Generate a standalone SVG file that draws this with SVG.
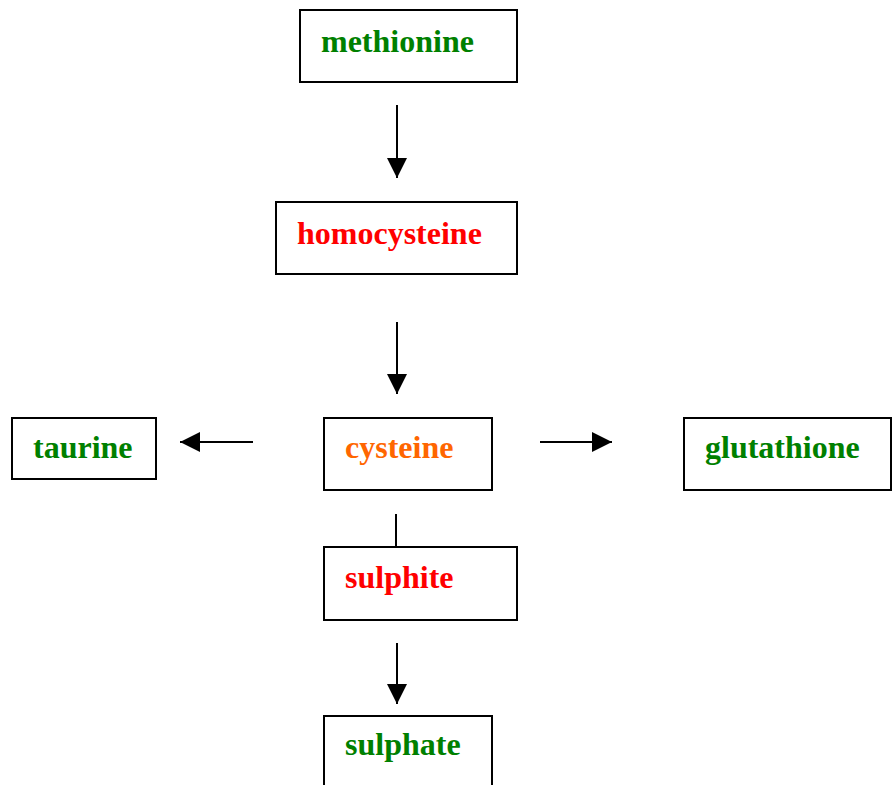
<svg xmlns="http://www.w3.org/2000/svg" width="892" height="785" viewBox="0 0 892 785">
<defs>
<style>
.box{fill:#fff;stroke:#000;stroke-width:2}
.lbl{font-family:"Liberation Serif","Times New Roman",serif;font-weight:bold;font-size:32px}
.g{fill:#008000}.r{fill:#FF0000}.o{fill:#FF6600}
.c{stroke:#000;stroke-width:2;fill:none}
</style>
<marker id="ah" markerWidth="20" markerHeight="20" viewBox="0 0 20 20" refX="20" refY="10" orient="auto" markerUnits="userSpaceOnUse">
<path d="M0,0 L20,10 L0,20 Z" fill="#000"/>
</marker>
</defs>
<rect width="892" height="785" fill="#fff"/>
<g id="connectors">
<line class="c" x1="397" y1="105" x2="397" y2="178" marker-end="url(#ah)"/>
<line class="c" x1="397" y1="322" x2="397" y2="394" marker-end="url(#ah)"/>
<line class="c" x1="253" y1="442" x2="180" y2="442" marker-end="url(#ah)"/>
<line class="c" x1="540" y1="442" x2="612" y2="442" marker-end="url(#ah)"/>
<line class="c" x1="396" y1="514" x2="396" y2="547"/>
<line class="c" x1="397" y1="643" x2="397" y2="704" marker-end="url(#ah)"/>
</g>
<g id="methionine"><rect class="box" x="300" y="10" width="217" height="72"/><text class="lbl g" x="321" y="52">methionine</text></g>
<g id="homocysteine"><rect class="box" x="276" y="202" width="241" height="72"/><text class="lbl r" x="297" y="244">homocysteine</text></g>
<g id="taurine"><rect class="box" x="12" y="418" width="144" height="61"/><text class="lbl g" x="33" y="458">taurine</text></g>
<g id="cysteine"><rect class="box" x="324" y="418" width="168" height="72"/><text class="lbl o" x="345" y="458">cysteine</text></g>
<g id="glutathione"><rect class="box" x="684" y="418" width="207" height="72"/><text class="lbl g" x="705" y="458">glutathione</text></g>
<g id="sulphite"><rect class="box" x="324" y="547" width="193" height="73"/><text class="lbl r" x="345" y="588">sulphite</text></g>
<g id="sulphate"><rect class="box" x="324" y="716" width="168" height="90"/><text class="lbl g" x="345" y="755">sulphate</text></g>
</svg>
